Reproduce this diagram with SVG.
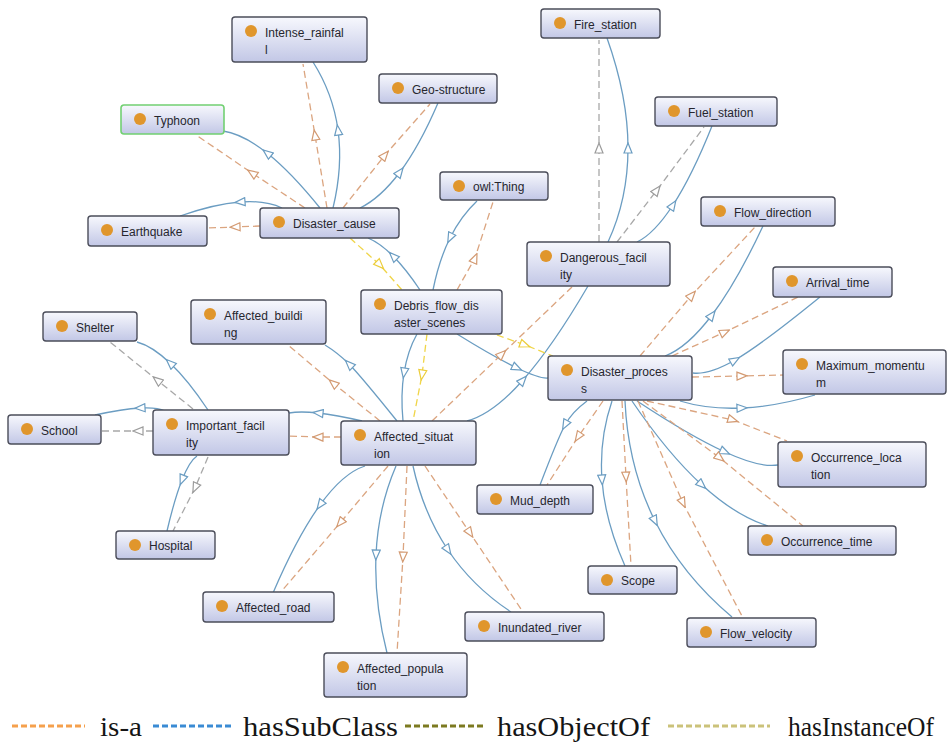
<svg xmlns="http://www.w3.org/2000/svg" width="948" height="751" viewBox="0 0 948 751">
  <defs>
    <linearGradient id="boxFill" x1="0" y1="0" x2="0" y2="1">
      <stop offset="0" stop-color="#f7f8fd"/>
      <stop offset="1" stop-color="#c2c7e6"/>
    </linearGradient>
    <!-- hollow triangle heads placed at the middle vertex of each connector -->
    <marker id="mb" viewBox="0 0 12 10" refX="6" refY="5" markerWidth="12" markerHeight="10" markerUnits="userSpaceOnUse" orient="auto">
      <path d="M1,1 L11,5 L1,9 Z" fill="#fff" stroke="#6b9dc2" stroke-width="1.2"/>
    </marker>
    <marker id="mo" viewBox="0 0 12 10" refX="6" refY="5" markerWidth="12" markerHeight="10" markerUnits="userSpaceOnUse" orient="auto">
      <path d="M1,1 L11,5 L1,9 Z" fill="#fff" stroke="#d39a72" stroke-width="1.2"/>
    </marker>
    <marker id="mg" viewBox="0 0 12 10" refX="6" refY="5" markerWidth="12" markerHeight="10" markerUnits="userSpaceOnUse" orient="auto">
      <path d="M1,1 L11,5 L1,9 Z" fill="#fff" stroke="#9c9c9c" stroke-width="1.2"/>
    </marker>
    <marker id="my" viewBox="0 0 12 10" refX="6" refY="5" markerWidth="12" markerHeight="10" markerUnits="userSpaceOnUse" orient="auto">
      <path d="M1,1 L11,5 L1,9 Z" fill="#fff" stroke="#eccd3a" stroke-width="1.2"/>
    </marker>
  </defs>
  <style>
    .node rect { fill: url(#boxFill); stroke: #4b4d5a; stroke-width: 1.4; }
    .node.selected rect { stroke: #72d072; stroke-width: 1.6; }
    .node circle { fill: #e0962c; }
    .node text { font-family: "Liberation Sans", Arial, sans-serif; font-size: 12px; fill: #26262e; }
    .e { fill: none; stroke-width: 1.3; }
    .b { stroke: #6b9dc2; marker-mid: url(#mb); }
    .o { stroke: #dba580; stroke-dasharray: 7 4; marker-mid: url(#mo); }
    .g { stroke: #a8a8a8; stroke-dasharray: 7 4; marker-mid: url(#mg); }
    .y { stroke: #f0d548; stroke-dasharray: 7 4; marker-mid: url(#my); }
    .legend line { stroke-width: 3; stroke-dasharray: 6 3; }
    .legend text { font-family: "Liberation Serif", "Times New Roman", serif; font-size: 27px; fill: #151515; }
  </style>

  <rect width="948" height="751" fill="#fff"/>

  <g id="connectors">
    <!-- hasSubClass: solid blue curves -->
    <path class="e b" d="M333,208 Q343,166.5 338,130 T313,62"/>
    <path class="e b" d="M320,208 Q291,172 267,153 T223,131"/>
    <path class="e b" d="M282,208 Q265.5,200 240,202 T180,216"/>
    <path class="e b" d="M360,208 Q380.5,198 400,172 T438,103"/>
    <path class="e b" d="M420,290 Q406,269 393,256 T368,238"/>
    <path class="e b" d="M477,201 Q461,216 450,238 T433,290"/>
    <path class="e b" d="M417,334 Q407.5,351 404,373 T403,421"/>
    <path class="e b" d="M457,334 Q494,357 517,368 T548,378"/>
    <path class="e b" d="M608,242 Q628,199 628,148 T607,38"/>
    <path class="e b" d="M637,242 Q654,234 673,205 T712,126"/>
    <path class="e b" d="M467,421 Q493,414 523,380 T588,286"/>
    <path class="e b" d="M665,356 Q687.5,347.5 712,315 T763,226"/>
    <path class="e b" d="M693,373 Q709,375 735,360 T820,297"/>
    <path class="e b" d="M680,401 Q708,409.5 742,408 T815,395"/>
    <path class="e b" d="M637,401 Q690,436 725,452 T778,465"/>
    <path class="e b" d="M632,401 Q668,454 702,485 T768,526"/>
    <path class="e b" d="M625,401 Q628,467 655,521 T732,617"/>
    <path class="e b" d="M612,401 Q599,439 602,480 T625,566"/>
    <path class="e b" d="M587,401 Q572,412 565,425 T540,485"/>
    <path class="e b" d="M397,421 Q360,375 349,364 T325,345"/>
    <path class="e b" d="M362,421 Q336,415 318,413 T289,413"/>
    <path class="e b" d="M365,466 Q343,473 320,505 T273,593"/>
    <path class="e b" d="M396,466 Q378,508 376,555 T387,653"/>
    <path class="e b" d="M413,466 Q423.5,513.5 448,550 T511,612"/>
    <path class="e b" d="M208,410 Q188,380 170,363 T137,342"/>
    <path class="e b" d="M165,411 Q157,407 140,408 T95,415"/>
    <path class="e b" d="M197,456 Q189.5,461 182,480 T167,531"/>

    <!-- orange dashed -->
    <path class="e o" d="M327,208 L315,135 L303,64"/>
    <path class="e o" d="M305,208 L252,173 L196,135"/>
    <path class="e o" d="M260,226 L235,227 L207,228"/>
    <path class="e o" d="M343,208 L385,155 L430,104"/>
    <path class="e o" d="M457,290 L475,258 L493,202"/>
    <path class="e o" d="M432,421 L502,354 L572,287"/>
    <path class="e o" d="M640,356 L692,295 L755,227"/>
    <path class="e o" d="M672,356 L725,332 L798,297"/>
    <path class="e o" d="M692,377 L742,376 L783,375"/>
    <path class="e o" d="M647,401 L733,420 L787,441"/>
    <path class="e o" d="M643,401 L720,458 L803,526"/>
    <path class="e o" d="M638,401 L683,503 L743,618"/>
    <path class="e o" d="M622,401 L626,477 L631,566"/>
    <path class="e o" d="M603,401 L578,437 L547,485"/>
    <path class="e o" d="M380,421 L333,383 L288,345"/>
    <path class="e o" d="M341,437 L318,437 L289,436"/>
    <path class="e o" d="M388,466 L340,523 L280,593"/>
    <path class="e o" d="M407,466 L403,557 L397,653"/>
    <path class="e o" d="M425,466 L470,533 L523,612"/>

    <!-- grey dashed -->
    <path class="e g" d="M599,242 L599,148 L599,40"/>
    <path class="e g" d="M617,242 L657,190 L704,127"/>
    <path class="e g" d="M193,409 L157,380 L110,342"/>
    <path class="e g" d="M153,431 L138,431 L101,431"/>
    <path class="e g" d="M208,457 L195,488 L173,531"/>

    <!-- yellow dashed -->
    <path class="e y" d="M350,238 L380,265 L402,290"/>
    <path class="e y" d="M427,334 L422,375 L413,421"/>
    <path class="e y" d="M497,335 L525,345 L553,356"/>
  </g>

  <g id="nodes">
    <g id="intense-rainfall" class="node" transform="translate(232,17)">
      <rect width="135" height="45" rx="3"/><circle cx="19" cy="14" r="6"/>
      <text x="33" y="20">Intense_rainfal</text><text x="33" y="37">l</text>
    </g>
    <g id="geo-structure" class="node" transform="translate(379,74)">
      <rect width="118" height="29" rx="3"/><circle cx="19" cy="14" r="6"/>
      <text x="33" y="19.5">Geo-structure</text>
    </g>
    <g id="typhoon" class="node selected" transform="translate(121,105)">
      <rect width="103" height="29" rx="3"/><circle cx="19" cy="14" r="6"/>
      <text x="33" y="19.5">Typhoon</text>
    </g>
    <g id="earthquake" class="node" transform="translate(88,216)">
      <rect width="119" height="30" rx="3"/><circle cx="19" cy="14" r="6"/>
      <text x="33" y="20">Earthquake</text>
    </g>
    <g id="disaster-cause" class="node" transform="translate(260,208)">
      <rect width="139" height="30" rx="3"/><circle cx="19" cy="14" r="6"/>
      <text x="33" y="19.5">Disaster_cause</text>
    </g>
    <g id="owl-thing" class="node" transform="translate(440,172)">
      <rect width="108" height="28" rx="3"/><circle cx="19" cy="14" r="6"/>
      <text x="33" y="19">owl:Thing</text>
    </g>
    <g id="fire-station" class="node" transform="translate(541,9)">
      <rect width="119" height="29" rx="3"/><circle cx="19" cy="14" r="6"/>
      <text x="33" y="19.5">Fire_station</text>
    </g>
    <g id="fuel-station" class="node" transform="translate(655,97)">
      <rect width="122" height="29" rx="3"/><circle cx="19" cy="14" r="6"/>
      <text x="33" y="19.5">Fuel_station</text>
    </g>
    <g id="flow-direction" class="node" transform="translate(701,197)">
      <rect width="134" height="29" rx="3"/><circle cx="19" cy="14" r="6"/>
      <text x="33" y="19.5">Flow_direction</text>
    </g>
    <g id="dangerous-facility" class="node" transform="translate(527,242)">
      <rect width="143" height="44" rx="3"/><circle cx="19" cy="14" r="6"/>
      <text x="33" y="20">Dangerous_facil</text><text x="33" y="37">ity</text>
    </g>
    <g id="arrival-time" class="node" transform="translate(773,267)">
      <rect width="119" height="30" rx="3"/><circle cx="19" cy="14" r="6"/>
      <text x="33" y="20">Arrival_time</text>
    </g>
    <g id="maximum-momentum" class="node" transform="translate(783,350)">
      <rect width="163" height="44" rx="3"/><circle cx="19" cy="14" r="6"/>
      <text x="33" y="20">Maximum_momentu</text><text x="33" y="37">m</text>
    </g>
    <g id="disaster-process" class="node" transform="translate(548,356)">
      <rect width="144" height="44" rx="3"/><circle cx="19" cy="14" r="6"/>
      <text x="33" y="20">Disaster_proces</text><text x="33" y="37">s</text>
    </g>
    <g id="debris-flow-disaster-scenes" class="node" transform="translate(361,290)">
      <rect width="141" height="44" rx="3"/><circle cx="19" cy="14" r="6"/>
      <text x="33" y="20">Debris_flow_dis</text><text x="33" y="37">aster_scenes</text>
    </g>
    <g id="affected-building" class="node" transform="translate(191,300)">
      <rect width="135" height="44" rx="3"/><circle cx="19" cy="14" r="6"/>
      <text x="33" y="20">Affected_buildi</text><text x="33" y="37">ng</text>
    </g>
    <g id="shelter" class="node" transform="translate(43,312)">
      <rect width="94" height="29" rx="3"/><circle cx="19" cy="14" r="6"/>
      <text x="33" y="19.5">Shelter</text>
    </g>
    <g id="school" class="node" transform="translate(8,415)">
      <rect width="93" height="29" rx="3"/><circle cx="19" cy="14" r="6"/>
      <text x="33" y="19.5">School</text>
    </g>
    <g id="important-facility" class="node" transform="translate(153,410)">
      <rect width="136" height="45" rx="3"/><circle cx="19" cy="14" r="6"/>
      <text x="33" y="20">Important_facil</text><text x="33" y="37">ity</text>
    </g>
    <g id="affected-situation" class="node" transform="translate(341,421)">
      <rect width="135" height="44" rx="3"/><circle cx="19" cy="14" r="6"/>
      <text x="33" y="20">Affected_situat</text><text x="33" y="37">ion</text>
    </g>
    <g id="hospital" class="node" transform="translate(116,531)">
      <rect width="99" height="28" rx="3"/><circle cx="19" cy="14" r="6"/>
      <text x="33" y="19">Hospital</text>
    </g>
    <g id="occurrence-location" class="node" transform="translate(778,442)">
      <rect width="148" height="45" rx="3"/><circle cx="19" cy="14" r="6"/>
      <text x="33" y="20">Occurrence_loca</text><text x="33" y="37">tion</text>
    </g>
    <g id="occurrence-time" class="node" transform="translate(748,526)">
      <rect width="148" height="29" rx="3"/><circle cx="19" cy="14" r="6"/>
      <text x="33" y="19.5">Occurrence_time</text>
    </g>
    <g id="mud-depth" class="node" transform="translate(477,485)">
      <rect width="116" height="29" rx="3"/><circle cx="19" cy="14" r="6"/>
      <text x="33" y="19.5">Mud_depth</text>
    </g>
    <g id="scope" class="node" transform="translate(588,566)">
      <rect width="89" height="28" rx="3"/><circle cx="19" cy="14" r="6"/>
      <text x="33" y="19">Scope</text>
    </g>
    <g id="flow-velocity" class="node" transform="translate(687,618)">
      <rect width="129" height="29" rx="3"/><circle cx="19" cy="14" r="6"/>
      <text x="33" y="19.5">Flow_velocity</text>
    </g>
    <g id="affected-road" class="node" transform="translate(203,592)">
      <rect width="131" height="30" rx="3"/><circle cx="19" cy="14" r="6"/>
      <text x="33" y="20">Affected_road</text>
    </g>
    <g id="inundated-river" class="node" transform="translate(465,612)">
      <rect width="139" height="29" rx="3"/><circle cx="19" cy="14" r="6"/>
      <text x="33" y="19.5">Inundated_river</text>
    </g>
    <g id="affected-population" class="node" transform="translate(324,653)">
      <rect width="143" height="44" rx="3"/><circle cx="19" cy="14" r="6"/>
      <text x="33" y="20">Affected_popula</text><text x="33" y="37">tion</text>
    </g>
  </g>

  <g id="legend" class="legend">
    <line x1="12" y1="726" x2="85" y2="726" stroke="#f5a04c"/>
    <text x="100" y="736" textLength="42" lengthAdjust="spacingAndGlyphs">is-a</text>
    <line x1="153" y1="726" x2="232" y2="726" stroke="#3a8bd4"/>
    <text x="243" y="736" textLength="155" lengthAdjust="spacingAndGlyphs">hasSubClass</text>
    <line x1="405" y1="726" x2="484" y2="726" stroke="#7c7a20"/>
    <text x="497" y="736" textLength="153" lengthAdjust="spacingAndGlyphs">hasObjectOf</text>
    <line x1="668" y1="726" x2="770" y2="726" stroke="#cbc27a"/>
    <text x="788" y="736" textLength="146" lengthAdjust="spacingAndGlyphs">hasInstanceOf</text>
  </g>
</svg>
